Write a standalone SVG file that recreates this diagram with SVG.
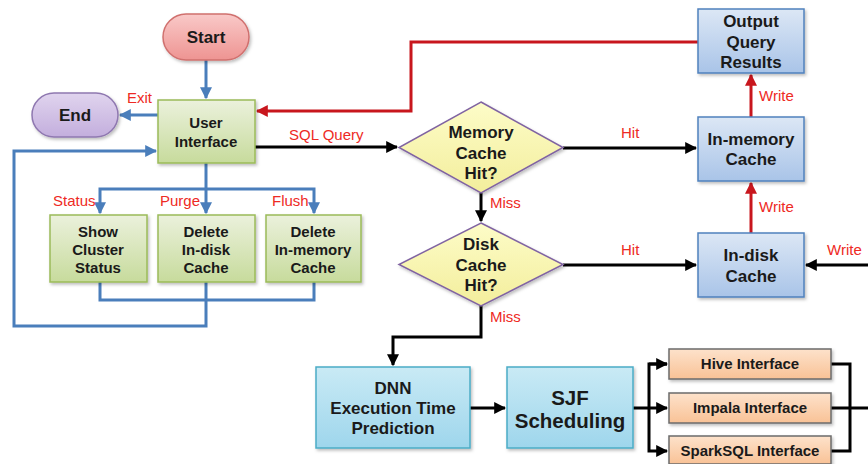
<svg xmlns="http://www.w3.org/2000/svg" width="868" height="464" viewBox="0 0 868 464">
<defs>
<linearGradient id="gStart" x1="0" y1="0" x2="0" y2="1"><stop offset="0" stop-color="#f9c9c8"/><stop offset="1" stop-color="#ee9492"/></linearGradient>
<linearGradient id="gEnd" x1="0" y1="0" x2="0" y2="1"><stop offset="0" stop-color="#e0d4ee"/><stop offset="1" stop-color="#c3aedd"/></linearGradient>
<linearGradient id="gGreen" x1="0" y1="0" x2="0" y2="1"><stop offset="0" stop-color="#ebf1dc"/><stop offset="1" stop-color="#c7db9c"/></linearGradient>
<linearGradient id="gYellow" x1="0" y1="0" x2="0" y2="1"><stop offset="0" stop-color="#fdfcc8"/><stop offset="1" stop-color="#f3ee9c"/></linearGradient>
<linearGradient id="gBlue" x1="0" y1="0" x2="0" y2="1"><stop offset="0" stop-color="#dce7f5"/><stop offset="1" stop-color="#a9c4e8"/></linearGradient>
<linearGradient id="gCyan" x1="0" y1="0" x2="0" y2="1"><stop offset="0" stop-color="#c9eaf5"/><stop offset="1" stop-color="#9ed6ec"/></linearGradient>
<linearGradient id="gOrange" x1="0" y1="0" x2="0" y2="1"><stop offset="0" stop-color="#fde2cb"/><stop offset="1" stop-color="#f9c296"/></linearGradient>
<filter id="sh" x="-10%" y="-10%" width="130%" height="140%"><feDropShadow dx="1.5" dy="2" stdDeviation="1.5" flood-color="#000" flood-opacity="0.25"/></filter>
<marker id="aBlue" viewBox="0 0 10 10" refX="9" refY="5" markerWidth="4" markerHeight="4" orient="auto" markerUnits="strokeWidth"><path d="M0,0 L10,5 L0,10 z" fill="#4a7ebb"/></marker>
<marker id="aBlack" viewBox="0 0 10 10" refX="9" refY="5" markerWidth="4" markerHeight="4" orient="auto" markerUnits="strokeWidth"><path d="M0,0 L10,5 L0,10 z" fill="#000"/></marker>
<marker id="aRed" viewBox="0 0 10 10" refX="9" refY="5" markerWidth="4" markerHeight="4" orient="auto" markerUnits="strokeWidth"><path d="M0,0 L10,5 L0,10 z" fill="#c8161d"/></marker>
</defs>
<style>
.t{font-family:"Liberation Sans",Arial,sans-serif;font-weight:bold;fill:#1a1a1a;text-anchor:middle}
.l{font-family:"Liberation Sans",Arial,sans-serif;fill:#ee2a24;font-size:15px}
.b{fill:none;stroke:#4a7ebb;stroke-width:3}
.k{fill:none;stroke:#000;stroke-width:3}
.r{fill:none;stroke:#c8161d;stroke-width:3}
.green{fill:url(#gGreen);stroke:#9bbb59;stroke-width:1.5}
.blue{fill:url(#gBlue);stroke:#4f81bd;stroke-width:1.5}
.cyan{fill:url(#gCyan);stroke:#4bacc6;stroke-width:1.5}
.orange{fill:url(#gOrange);stroke:#6b6b6b;stroke-width:1.5}
.dia{fill:url(#gYellow);stroke:#8064a2;stroke-width:1.5}
</style>
<rect width="868" height="464" fill="#fff"/>

<g id="connectors">
<path class="b" d="M206,60 V98" marker-end="url(#aBlue)"/>
<path class="b" d="M158,115 H120" marker-end="url(#aBlue)"/>
<path class="b" d="M206,163 V213" marker-end="url(#aBlue)"/>
<path class="b" d="M206,189 H100 V213" marker-end="url(#aBlue)"/>
<path class="b" d="M206,189 H314 V213" marker-end="url(#aBlue)"/>
<path class="b" d="M100,282 V300 H314 V282"/>
<path class="b" d="M206,282 V326 H14 V151 H156" marker-end="url(#aBlue)"/>
<path class="r" d="M698,42 H411 V111 H257" marker-end="url(#aRed)"/>
<path class="k" d="M255,147 H397" marker-end="url(#aBlack)"/>
<path class="k" d="M563,148 H696" marker-end="url(#aBlack)"/>
<path class="k" d="M563,265 H696" marker-end="url(#aBlack)"/>
<path class="k" d="M481,193 V221" marker-end="url(#aBlack)"/>
<path class="r" d="M751,117 V75" marker-end="url(#aRed)"/>
<path class="r" d="M751,233 V183" marker-end="url(#aRed)"/>
<path class="k" d="M868,265 H806" marker-end="url(#aBlack)"/>
<path class="k" d="M481,305 V337 H393 V365" marker-end="url(#aBlack)"/>
<path class="k" d="M470,408 H505" marker-end="url(#aBlack)"/>
<path class="k" d="M633,408 H667" marker-end="url(#aBlack)"/>
<path class="k" d="M667,364 H649 V451 H667" marker-end="url(#aBlack)"/>
<path class="k" d="M649,364 H667" marker-end="url(#aBlack)"/>
<path class="k" d="M831,364 H850 V451 H831"/>
<path class="k" d="M831,408 H868"/>
</g>

<g id="labels">
<text class="l" x="127" y="103">Exit</text>
<text class="l" x="53" y="206">Status</text>
<text class="l" x="160" y="206">Purge</text>
<text class="l" x="272" y="206">Flush</text>
<text class="l" x="289" y="140">SQL Query</text>
<text class="l" x="621" y="138">Hit</text>
<text class="l" x="621" y="255">Hit</text>
<text class="l" x="490" y="208">Miss</text>
<text class="l" x="490" y="322">Miss</text>
<text class="l" x="759" y="101">Write</text>
<text class="l" x="759" y="212">Write</text>
<text class="l" x="827" y="255">Write</text>
</g>

<g id="start"><rect x="163" y="14" width="86" height="46" rx="23" fill="url(#gStart)" stroke="#d0706e" stroke-width="1.5" filter="url(#sh)"/><text class="t" x="206" y="43" font-size="17">Start</text></g>
<g id="end"><rect x="32" y="93" width="86" height="44" rx="22" fill="url(#gEnd)" stroke="#8f78b0" stroke-width="1.5" filter="url(#sh)"/><text class="t" x="75" y="121" font-size="17">End</text></g>
<g id="user-interface"><rect class="green" x="158" y="100" width="97" height="63" filter="url(#sh)"/><text class="t" x="206" y="128" font-size="15">User</text><text class="t" x="206" y="147" font-size="15">Interface</text></g>
<g id="show-cluster-status"><rect class="green" x="50" y="215" width="97" height="67" filter="url(#sh)"/><text class="t" x="98" y="237" font-size="15">Show</text><text class="t" x="98" y="255" font-size="15">Cluster</text><text class="t" x="98" y="273" font-size="15">Status</text></g>
<g id="delete-indisk"><rect class="green" x="158" y="215" width="97" height="67" filter="url(#sh)"/><text class="t" x="206" y="237" font-size="15">Delete</text><text class="t" x="206" y="255" font-size="15">In-disk</text><text class="t" x="206" y="273" font-size="15">Cache</text></g>
<g id="delete-inmemory"><rect class="green" x="266" y="215" width="95" height="67" filter="url(#sh)"/><text class="t" x="313" y="237" font-size="15">Delete</text><text class="t" x="313" y="255" font-size="15">In-memory</text><text class="t" x="313" y="273" font-size="15">Cache</text></g>
<g id="memory-cache-hit"><polygon class="dia" points="481,102 563,147.5 481,193 399,147.5" filter="url(#sh)"/><text class="t" x="481" y="138" font-size="17">Memory</text><text class="t" x="481" y="159" font-size="17">Cache</text><text class="t" x="481" y="179" font-size="17">Hit?</text></g>
<g id="disk-cache-hit"><polygon class="dia" points="481,223 563,264.5 481,306 399,264.5" filter="url(#sh)"/><text class="t" x="481" y="250" font-size="17">Disk</text><text class="t" x="481" y="271" font-size="17">Cache</text><text class="t" x="481" y="291" font-size="17">Hit?</text></g>
<g id="output-query-results"><rect class="blue" x="698" y="9" width="106" height="64" filter="url(#sh)"/><text class="t" x="751" y="27" font-size="17">Output</text><text class="t" x="751" y="48" font-size="17">Query</text><text class="t" x="751" y="68" font-size="17">Results</text></g>
<g id="inmemory-cache"><rect class="blue" x="698" y="117" width="106" height="64" filter="url(#sh)"/><text class="t" x="751" y="145" font-size="17">In-memory</text><text class="t" x="751" y="165" font-size="17">Cache</text></g>
<g id="indisk-cache"><rect class="blue" x="698" y="233" width="106" height="64" filter="url(#sh)"/><text class="t" x="751" y="261" font-size="17">In-disk</text><text class="t" x="751" y="282" font-size="17">Cache</text></g>
<g id="dnn"><rect class="cyan" x="316" y="367" width="154" height="81" filter="url(#sh)"/><text class="t" x="393" y="394" font-size="17">DNN</text><text class="t" x="393" y="414" font-size="17">Execution Time</text><text class="t" x="393" y="434" font-size="17">Prediction</text></g>
<g id="sjf"><rect class="cyan" x="507" y="367" width="126" height="81" filter="url(#sh)"/><text class="t" x="570" y="405" font-size="20.5">SJF</text><text class="t" x="570" y="428" font-size="20.5">Scheduling</text></g>
<g id="hive"><rect class="orange" x="669" y="349" width="162" height="30" filter="url(#sh)"/><text class="t" x="750" y="369" font-size="15">Hive Interface</text></g>
<g id="impala"><rect class="orange" x="669" y="393" width="162" height="30" filter="url(#sh)"/><text class="t" x="750" y="413" font-size="15">Impala Interface</text></g>
<g id="sparksql"><rect class="orange" x="669" y="436" width="162" height="28" filter="url(#sh)"/><text class="t" x="750" y="456" font-size="15">SparkSQL Interface</text></g>
</svg>
